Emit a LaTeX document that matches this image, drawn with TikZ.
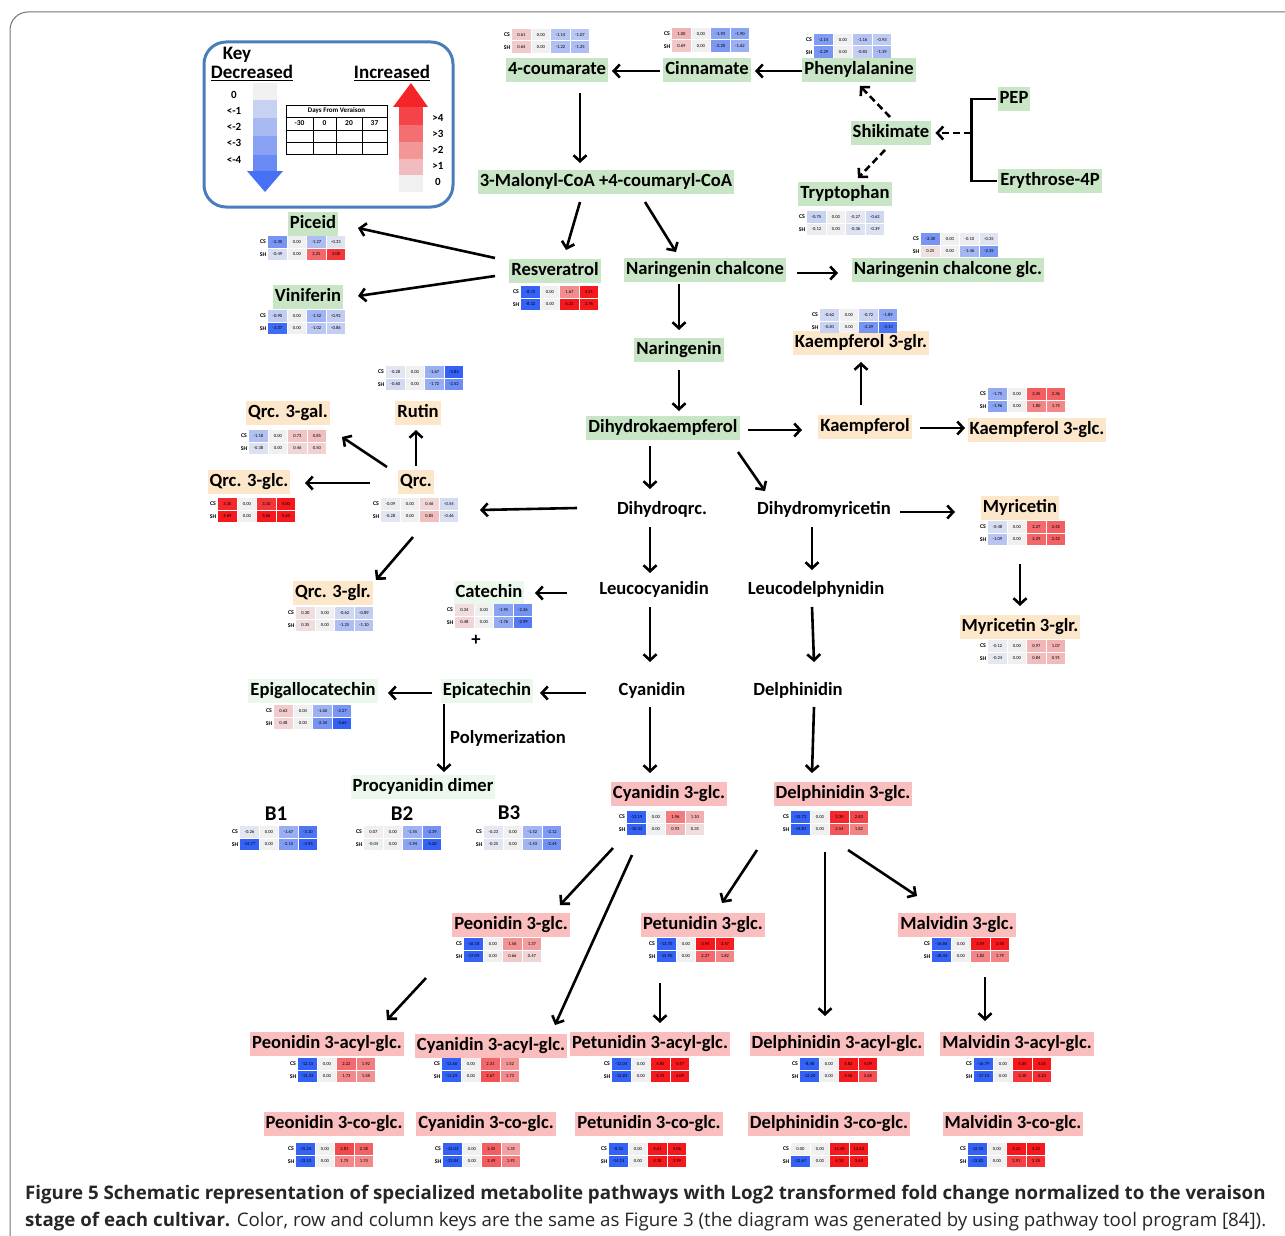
\documentclass[tikz,border=0pt]{standalone}
\usepackage{fontspec}
\setmainfont{Carlito}
\newfontfamily\capfont{Open Sans}
\usetikzlibrary{arrows.meta}

\definecolor{leafgreen}{RGB}{200,229,197}
\definecolor{peach}{RGB}{253,231,203}
\definecolor{rosy}{RGB}{250,190,190}
\definecolor{mint}{RGB}{236,248,236}
\definecolor{negc}{RGB}{52,98,246}
\definecolor{posc}{RGB}{245,25,30}
\definecolor{basec}{RGB}{240,240,240}
\definecolor{keyblue}{RGB}{74,126,187}

\tikzset{
  met/.style={inner xsep=2pt,inner ysep=3pt,text height=13pt,text depth=4.2pt,font=\fontsize{18.6}{21}\selectfont\bfseries},
  gmet/.style={met,fill=leafgreen},
  omet/.style={met,fill=peach},
  rmet/.style={met,fill=rosy},
  mmet/.style={met,fill=mint},
  tmet/.style={met},
  arr/.style={line width=2.6pt,-{Straight Barb[length=6pt,width=13pt]}},
  darr/.style={arr,dash pattern=on 7pt off 4pt},
  hmnum/.style={inner sep=0pt,font=\fontsize{4.6}{5}\selectfont},
  hmtag/.style={inner sep=0pt,font=\fontsize{5.8}{6}\selectfont\bfseries},
  keytxt/.style={inner sep=0pt,font=\fontsize{11}{12}\selectfont\bfseries},
}

% one heat-map cell: x, y, value
\newcommand{\hcell}[3]{%
  \pgfmathtruncatemacro\hmpc{min(abs(#3)*28,100)}%
  \pgfmathtruncatemacro\hmneg{#3<0 ? 1 : 0}%
  \ifnum\hmneg=1 \colorlet{cellc}{negc!\hmpc!basec}\else\colorlet{cellc}{posc!\hmpc!basec}\fi
  \fill[cellc] (#1,#2) rectangle ++(18.8,11.5);
  \node[hmnum] at (#1+9.4,#2+5.75) {#3};
}
% heat map: x, y (top left), CS values, SH values
\newcommand{\hmap}[4]{%
  \node[hmtag] at (#1+4,#2+5.75) {CS};
  \node[hmtag] at (#1+4,#2+18.25) {SH};
  \foreach \v [count=\i from 0] in {#3} {\hcell{#1+9+\i*19.5}{#2}{\v}}
  \foreach \v [count=\i from 0] in {#4} {\hcell{#1+9+\i*19.5}{#2+12.5}{\v}}
}

\begin{document}
\begin{tikzpicture}[x=1pt,y=-1pt]
\path[use as bounding box] (0,0) rectangle (1285,1236);
\clip (0,0) rectangle (1285,1236);
\draw[black!55,line width=1pt,rounded corners=18] (10,1300) -- (10,12) -- (1320,12);

% key
\draw[keyblue,line width=3pt,rounded corners=22] (204,42) rectangle (453,207);
\node[inner sep=0pt,font=\fontsize{19}{22}\selectfont\bfseries] at (237,55) {Key};
\node[inner sep=0pt,font=\fontsize{19}{22}\selectfont\bfseries] at (252,73) {\underline{Decreased}};
\node[inner sep=0pt,font=\fontsize{19}{22}\selectfont\bfseries] at (392,73) {\underline{Increased}};
\fill[basec] (253,83) rectangle (277,100);
\fill[negc!22!basec] (253,100) rectangle (277,118);
\fill[negc!38!basec] (253,118) rectangle (277,136);
\fill[negc!55!basec] (253,136) rectangle (277,155);
\fill[negc!72!basec] (253,155) rectangle (277,171);
\fill[negc!90!basec] (247,171) -- (283,171) -- (265,192) -- cycle;
\node[keytxt] at (234,95) {0};
\node[keytxt] at (234,111) {<-1};
\node[keytxt] at (234,127) {<-2};
\node[keytxt] at (234,143) {<-3};
\node[keytxt] at (234,160) {<-4};
\fill[posc!95!basec] (393,107) -- (428,107) -- (411,83) -- cycle;
\fill[posc!80!basec] (399,107) rectangle (423,125);
\fill[posc!60!basec] (399,125) rectangle (423,142);
\fill[posc!42!basec] (399,142) rectangle (423,159);
\fill[posc!24!basec] (399,159) rectangle (423,175);
\fill[basec] (399,175) rectangle (423,192);
\node[keytxt] at (438,118) {>4};
\node[keytxt] at (438,134) {>3};
\node[keytxt] at (438,150) {>2};
\node[keytxt] at (438,166) {>1};
\node[keytxt] at (438,182) {0};
\draw[line width=0.9pt] (286,105) rectangle (387,154);
\foreach \yy in {117,130,142} \draw[line width=0.9pt] (286,\yy) -- (387,\yy);
\foreach \xx in {313,336,362} \draw[line width=0.9pt] (\xx,117) -- (\xx,154);
\node[inner sep=0pt,font=\fontsize{7}{8}\selectfont\bfseries] at (336.5,111) {Days From Veraison};
\node[inner sep=0pt,font=\fontsize{7.5}{8}\selectfont\bfseries] at (299.5,123.5) {-30};
\node[inner sep=0pt,font=\fontsize{7.5}{8}\selectfont\bfseries] at (324.5,123.5) {0};
\node[inner sep=0pt,font=\fontsize{7.5}{8}\selectfont\bfseries] at (349,123.5) {20};
\node[inner sep=0pt,font=\fontsize{7.5}{8}\selectfont\bfseries] at (374.5,123.5) {37};

% metabolites
\node[gmet] (coum) at (557,70) {4-coumarate};
\node[gmet] (cinn) at (707,70) {Cinnamate};
\node[gmet] (phe) at (859,70) {Phenylalanine};
\node[gmet] (pep) at (1014,99) {PEP};
\node[gmet] (shik) at (891,133) {Shikimate};
\node[gmet] (ery) at (1050,181) {Erythrose-4P};
\node[gmet] (tryp) at (845,194) {Tryptophan};
\node[gmet] (malo) at (606,182) {3-Malonyl-CoA +4-coumaryl-CoA};
\node[gmet] (pic) at (313,224) {Piceid};
\node[gmet] (resv) at (555,271) {Resveratrol};
\node[gmet] (narch) at (705,270) {Naringenin chalcone};
\node[gmet] (narglc) at (948,270) {Naringenin chalcone glc.};
\node[gmet] (vinif) at (308,297) {Viniferin};
\node[gmet] (nar) at (679,350) {Naringenin};
\node[omet] (kglr) at (861,343) {Kaempferol 3-glr.};
\node[omet] (rutin) at (418,413) {Rutin};
\node[omet] (qgal) at (288,413) {Qrc. 3-gal.};
\node[gmet] (dhk) at (663,428) {Dihydrokaempferol};
\node[omet] (kae) at (865,427) {Kaempferol};
\node[omet] (kglc) at (1037,430) {Kaempferol 3-glc.};
\node[omet] (qglc) at (249,482) {Qrc. 3-glc.};
\node[omet] (qrc) at (416,482) {Qrc.};
\node[tmet] (dhq) at (662,510) {Dihydroqrc.};
\node[tmet] (dhm) at (824,510) {Dihydromyricetin};
\node[omet] (myr) at (1020,508) {Myricetin};
\node[omet] (qglr) at (333,593) {Qrc. 3-glr.};
\node[mmet] (cat) at (489,593) {Catechin};
\node[tmet] (plus) at (476,641) {+};
\node[tmet] (leuc) at (654,590) {Leucocyanidin};
\node[tmet] (leud) at (816,590) {Leucodelphynidin};
\node[omet] (mglr) at (1020,627) {Myricetin 3-glr.};
\node[mmet] (egc) at (313,691) {Epigallocatechin};
\node[mmet] (epi) at (487,691) {Epicatechin};
\node[tmet] (cya) at (652,691) {Cyanidin};
\node[tmet] (del) at (798,691) {Delphinidin};
\node[tmet] (poly) at (508,739) {Polymerization};
\node[mmet] (pcd) at (423,787) {Procyanidin dimer};
\node[rmet] (cy3g) at (669,794) {Cyanidin 3-glc.};
\node[rmet] (de3g) at (843,794) {Delphinidin 3-glc.};
\node[inner sep=0pt,font=\fontsize{21}{24}\selectfont\bfseries] (bone) at (276,814) {B1};
\node[inner sep=0pt,font=\fontsize{21}{24}\selectfont\bfseries] (btwo) at (402,814) {B2};
\node[inner sep=0pt,font=\fontsize{21}{24}\selectfont\bfseries] (bthree) at (509,813) {B3};
\node[rmet] (pe3g) at (511,925) {Peonidin 3-glc.};
\node[rmet] (pt3g) at (703,925) {Petunidin 3-glc.};
\node[rmet] (mv3g) at (957,925) {Malvidin 3-glc.};
\node[rmet] (peacy) at (327,1044) {Peonidin 3-acyl-glc.};
\node[rmet] (cyacy) at (491,1046) {Cyanidin 3-acyl-glc.};
\node[rmet] (ptacy) at (650,1044) {Petunidin 3-acyl-glc.};
\node[rmet] (deacy) at (837,1044) {Delphinidin 3-acyl-glc.};
\node[rmet] (mvacy) at (1017,1044) {Malvidin 3-acyl-glc.};
\node[rmet] (peco) at (334,1124) {Peonidin 3-co-glc.};
\node[rmet] (cyco) at (486,1124) {Cyanidin 3-co-glc.};
\node[rmet] (ptco) at (649,1124) {Petunidin 3-co-glc.};
\node[rmet] (deco) at (829,1124) {Delphinidin 3-co-glc.};
\node[rmet] (mvco) at (1013,1124) {Malvidin 3-co-glc.};

% heat maps
\hmap{503}{29}{0.61,0.00,-1.14,-1.07}{0.64,0.00,-1.22,-1.25}
\hmap{663}{28}{1.00,0.00,-1.93,-1.90}{0.69,0.00,-2.20,-1.62}
\hmap{805}{34}{-2.14,0.00,-1.16,-0.93}{-2.29,0.00,-0.83,-1.39}
\hmap{798}{211}{-0.75,0.00,-0.27,-0.62}{-0.12,0.00,-0.36,-0.39}
\hmap{912}{233}{-2.30,0.00,-0.10,-0.35}{0.25,0.00,-1.46,-2.35}
\hmap{259}{236}{-2.30,0.00,-1.27,-0.33}{-0.49,0.00,2.25,3.08}
\hmap{259}{310}{-0.90,0.00,-1.52,-0.92}{-3.37,0.00,-1.02,-0.86}
\hmap{512}{286}{-8.72,0.00,1.67,4.21}{-8.32,0.00,4.22,3.76}
\hmap{811}{309}{-0.62,0.00,-0.72,-1.89}{-0.81,0.00,-2.29,-3.13}
\hmap{377}{366}{-0.28,0.00,-1.67,-3.83}{-0.60,0.00,-1.72,-2.52}
\hmap{240}{430}{-1.18,0.00,0.73,0.85}{-0.38,0.00,0.46,0.50}
\hmap{979}{388}{-1.75,0.00,2.45,2.36}{-1.96,0.00,1.80,1.75}
\hmap{209}{498}{3.35,0.00,3.10,4.00}{4.69,0.00,3.66,5.63}
\hmap{372}{498}{-0.09,0.00,0.46,-0.54}{-0.28,0.00,0.85,-0.46}
\hmap{979}{521}{-0.48,0.00,2.27,2.42}{-1.09,0.00,2.29,2.42}
\hmap{287}{607}{0.30,0.00,-0.62,-0.89}{0.35,0.00,-1.25,-1.10}
\hmap{446}{604}{0.34,0.00,-1.95,-2.36}{0.48,0.00,-1.76,-2.99}
\hmap{979}{640}{-0.12,0.00,0.97,1.07}{-0.24,0.00,0.84,0.91}
\hmap{265}{705}{0.63,0.00,-1.60,-2.27}{0.48,0.00,-2.34,-3.65}
\hmap{231}{826}{-0.26,0.00,-1.67,-3.10}{-14.77,0.00,-2.15,-4.93}
\hmap{355}{826}{0.07,0.00,-1.55,-2.39}{-0.04,0.00,-1.94,-5.20}
\hmap{475}{826}{-0.23,0.00,-1.52,-2.12}{-0.25,0.00,-1.53,-2.44}
\hmap{618}{811}{-13.19,0.00,1.96,1.10}{-10.32,0.00,0.93,0.35}
\hmap{782}{811}{-13.72,0.00,3.39,2.83}{-14.81,0.00,2.54,1.82}
\hmap{455}{938}{-16.18,0.00,1.56,1.37}{-17.09,0.00,0.66,0.47}
\hmap{648}{938}{-13.70,0.00,3.94,3.47}{-15.90,0.00,2.27,1.82}
\hmap{923}{938}{-16.86,0.00,3.59,3.58}{-18.44,0.00,1.82,1.79}
\hmap{289}{1058}{-12.15,0.00,2.22,1.92}{-13.33,0.00,1.73,1.58}
\hmap{433}{1058}{-11.60,0.00,2.31,1.52}{-11.29,0.00,2.67,1.73}
\hmap{603}{1058}{-12.04,0.00,4.85,4.47}{-12.83,0.00,4.72,4.09}
\hmap{791}{1058}{-8.48,0.00,4.82,4.09}{-12.20,0.00,3.56,2.68}
\hmap{965}{1058}{-16.79,0.00,4.04,4.01}{-17.15,0.00,3.10,3.23}
\hmap{287}{1143}{-15.24,0.00,2.81,2.38}{-13.53,0.00,1.75,1.74}
\hmap{434}{1143}{-12.03,0.00,2.45,1.35}{-13.84,0.00,2.49,1.91}
\hmap{600}{1143}{-8.31,0.00,4.61,4.06}{-14.15,0.00,4.18,3.99}
\hmap{782}{1143}{0.00,0.00,14.48,13.63}{-12.67,0.00,4.13,3.64}
\hmap{959}{1143}{-12.55,0.00,4.25,4.23}{-13.82,0.00,2.91,3.18}

% connectors
\draw[arr] ([shift={(-47,1)}]cinn.center) -- ([shift={(55,1)}]coum.center);
\draw[arr] ([shift={(-57,1)}]phe.center) -- ([shift={(48,1)}]cinn.center);
\draw[darr] ([shift={(-1,-16)}]shik.center) -- ([shift={(1,16)}]phe.center);
\draw[darr] ([shift={(-6,17)}]shik.center) -- ([shift={(13,-16)}]tryp.center);
\draw[line width=2.6pt] ([xshift=-1pt]pep.west) -- ++(-25,0) coordinate (bt) |- ([xshift=-1pt]ery.west);
\draw[darr] (bt |- shik) -- ([xshift=4pt]shik.east);
\draw[arr] ([shift={(23,23)}]coum.center) -- ([shift={(-26,-19)}]malo.center);
\draw[arr] ([shift={(-26,20)}]malo.center) -- ([shift={(11,-21)}]resv.center);
\draw[arr] ([shift={(39,20)}]malo.center) -- ([shift={(-29,-18)}]narch.center);
\draw[arr] ([shift={(-60,-13)}]resv.center) -- ([shift={(45,4)}]pic.center);
\draw[arr] ([shift={(-60,5)}]resv.center) -- ([shift={(50,-1)}]vinif.center);
\draw[arr] ([shift={(92,3)}]narch.center) -- ([shift={(-110,3)}]narglc.center);
\draw[arr] ([shift={(-26,14)}]narch.center) -- ([shift={(0,-20)}]nar.center);
\draw[arr] ([shift={(0,20)}]nar.center) -- ([shift={(16,-17)}]dhk.center);
\draw[arr] ([shift={(85,2)}]dhk.center) -- ([shift={(-63,3)}]kae.center);
\draw[arr] ([shift={(-4,-22)}]kae.center) -- ([shift={(0,19)}]kglr.center);
\draw[arr] ([shift={(55,1)}]kae.center) -- ([shift={(-72,-2)}]kglc.center);
\draw[arr] ([shift={(-13,18)}]dhk.center) -- ([shift={(-12,-21)}]dhq.center);
\draw[arr] ([shift={(75,24)}]dhk.center) -- ([shift={(-59,-19)}]dhm.center);
\draw[arr] ([shift={(76,2)}]dhm.center) -- ([shift={(-65,4)}]myr.center);
\draw[arr] ([shift={(0,56)}]myr.center) -- ([shift={(0,-21)}]mglr.center);
\draw[arr] ([shift={(-85,-2)}]dhq.center) -- ([shift={(64,28)}]qrc.center);
\draw[arr] ([shift={(0,-16)}]qrc.center) -- ([shift={(-2,17)}]rutin.center);
\draw[arr] ([shift={(-29,-15)}]qrc.center) -- ([shift={(54,24)}]qgal.center);
\draw[arr] ([shift={(-46,1)}]qrc.center) -- ([shift={(56,1)}]qglc.center);
\draw[arr] ([shift={(-3,55)}]qrc.center) -- ([shift={(43,-13)}]qglr.center);
\draw[arr] ([shift={(-12,17)}]dhq.center) -- ([shift={(-4,-17)}]leuc.center);
\draw[arr] ([shift={(-12,17)}]dhm.center) -- ([shift={(-4,-20)}]leud.center);
\draw[arr] ([shift={(-87,3)}]leuc.center) -- ([shift={(46,0)}]cat.center);
\draw[arr] ([shift={(-4,17)}]leuc.center) -- ([shift={(-2,-29)}]cya.center);
\draw[arr] ([shift={(-4,17)}]leud.center) -- ([shift={(16,-29)}]del.center);
\draw[arr] ([shift={(-66,2)}]cya.center) -- ([shift={(53,2)}]epi.center);
\draw[arr] ([shift={(-55,2)}]epi.center) -- ([shift={(75,2)}]egc.center);
\draw[arr] ([shift={(-43,13)}]epi.center) -- ([shift={(21,-15)}]pcd.center);
\draw[arr] ([shift={(-2,16)}]cya.center) -- ([shift={(-19,-21)}]cy3g.center);
\draw[arr] ([shift={(16,16)}]del.center) -- ([shift={(-31,-21)}]de3g.center);
\draw[arr] ([shift={(-56,54)}]cy3g.center) -- ([shift={(49,-20)}]pe3g.center);
\draw[arr] ([shift={(-37,61)}]cy3g.center) -- ([shift={(64,-21)}]cyacy.center);
\draw[arr] ([shift={(-86,56)}]de3g.center) -- ([shift={(19,-22)}]pt3g.center);
\draw[arr] ([shift={(-18,58)}]de3g.center) -- ([shift={(-12,-28)}]deacy.center);
\draw[arr] ([shift={(5,56)}]de3g.center) -- ([shift={(-40,-29)}]mv3g.center);
\draw[arr] ([shift={(-85,53)}]pe3g.center) -- ([shift={(60,-24)}]peacy.center);
\draw[arr] ([shift={(-43,58)}]pt3g.center) -- ([shift={(10,-21)}]ptacy.center);
\draw[arr] ([shift={(28,52)}]mv3g.center) -- ([shift={(-32,-23)}]mvacy.center);

% caption
\node[anchor=base west,inner sep=0pt,text=black!85,font=\capfont\fontsize{18.7}{21}\selectfont\bfseries] (capa) at (25,1199) {Figure 5 Schematic representation of specialized metabolite pathways with Log2 transformed fold change normalized to the veraison};
\node[anchor=base west,inner sep=0pt,text=black!85,font=\capfont\fontsize{18.7}{21}\selectfont] (capb) at (25,1226) {\textbf{stage of each cultivar.} Color, row and column keys are the same as Figure 3 (the diagram was generated by using pathway tool program [84]).};
\end{tikzpicture}
\end{document}
